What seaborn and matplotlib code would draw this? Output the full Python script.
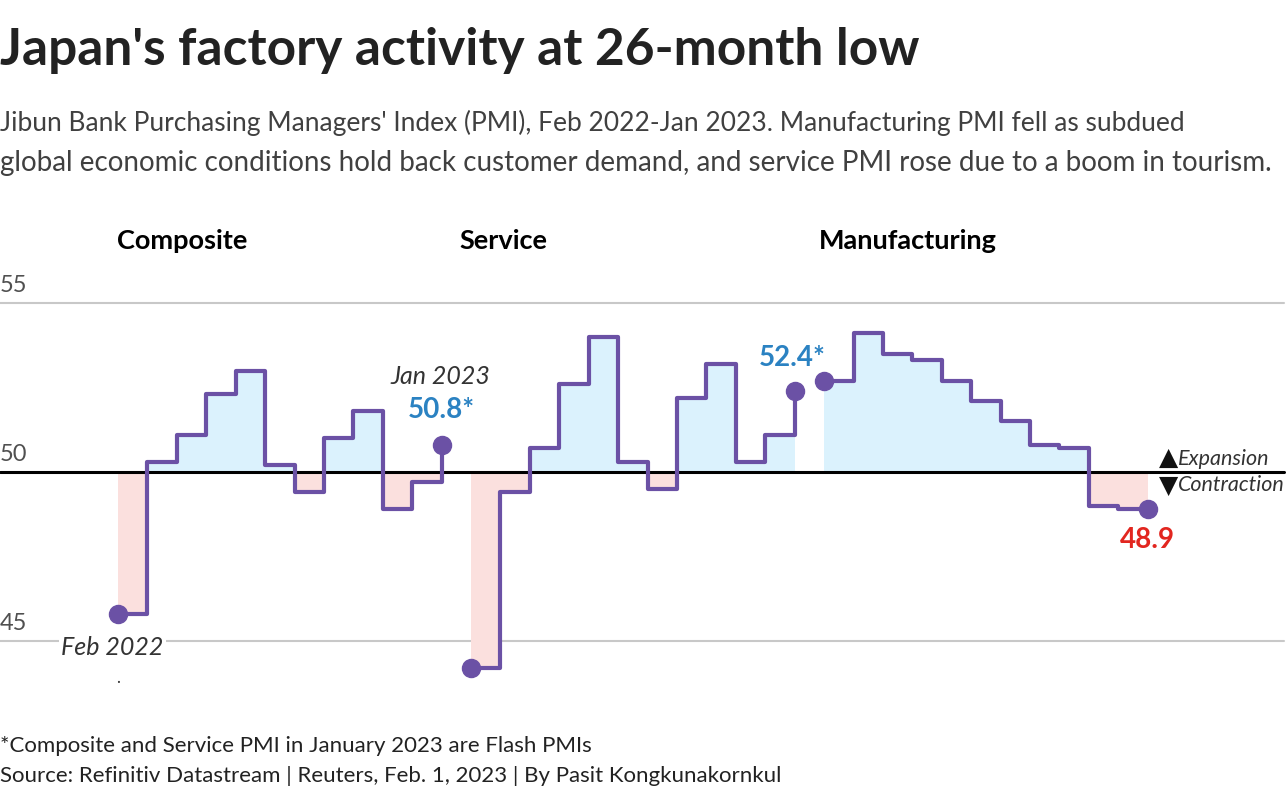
import numpy as np
import pandas as pd
import matplotlib.pyplot as plt
import seaborn as sns

# Jibun Bank PMI, Feb 2022 - Jan 2023
months = ['Feb', 'Mar', 'Apr', 'May', 'Jun', 'Jul', 'Aug', 'Sep', 'Oct', 'Nov', 'Dec', 'Jan']
panels = ['Composite', 'Service', 'Manufacturing']
composite = [45.8, 50.3, 51.1, 52.3, 53.0, 50.2, 49.4, 51.0, 51.8, 48.9, 49.7, 50.8]
service = [44.2, 49.4, 50.7, 52.6, 54.0, 50.3, 49.5, 52.2, 53.2, 50.3, 51.1, 52.4]
manufacturing = [52.7, 54.1, 53.5, 53.3, 52.7, 52.1, 51.5, 50.8, 50.7, 49.0, 48.9, 48.9]
end_labels = ['50.8*', '52.4*', '48.9']
y_ticks = [45, 50, 55]

LINE = '#6b51a5'
BLUE_FILL = '#dbf2fd'
RED_FILL = '#fbe0de'
BLUE_TXT = '#2b82c2'
RED_TXT = '#e2261f'

rows = []
for p, vals in zip(panels, [composite, service, manufacturing]):
    for m, v in enumerate(vals):
        rows.append({'panel': p, 'month': months[m], 'pos': panels.index(p) * 12 + m, 'pmi': v})
df = pd.DataFrame(rows)

sns.set_theme(style='white')
plt.rcParams['font.family'] = ['Lato', 'DejaVu Sans']

W, H = 1288, 800
fig = plt.figure(figsize=(W / 100, H / 100), dpi=100)
ax = fig.add_axes([0, 1 - 700 / H, 1, 410 / H])


def fx(px):
    return px / W


def fy(py):
    return 1 - py / H


# grid / baseline
for t in y_ticks:
    if t == 50:
        ax.axhline(t, xmin=0, xmax=1284 / W, color='black', lw=2.2, zorder=3)
    else:
        ax.axhline(t, xmin=0, xmax=1284 / W, color='#c8c8c8', lw=1.5, zorder=0)

for i, p in enumerate(panels):
    d = df[df.panel == p]
    x = d.pos.values
    v = d.pmi.values
    ax.fill_between(x, 50, np.maximum(v, 50), step='post', color=BLUE_FILL, lw=0, zorder=1)
    ax.fill_between(x, 50, np.minimum(v, 50), step='post', color=RED_FILL, lw=0, zorder=1)
    sns.lineplot(data=d, x='pos', y='pmi', ax=ax, color=LINE, lw=3,
                 drawstyle='steps-post', zorder=4)
    ax.plot([x[0], x[-1]], [v[0], v[-1]], 'o', color=LINE, ms=13, zorder=5)

ax.set_xlim(-118 / 29.42, (W - 118) / 29.42)
ax.set_ylim(45 - 59 / 33.8, 55 + 13 / 33.8)
ax.axis('off')

# y tick labels above grid lines
for t in y_ticks:
    ax.annotate(str(t), xy=(0, t), xycoords=('axes fraction', 'data'),
                xytext=(0, 5), textcoords='offset points', ha='left', va='bottom',
                fontsize=17, color='#505050')

# annotations
comp = df[df.panel == 'Composite']
serv = df[df.panel == 'Service']
manu = df[df.panel == 'Manufacturing']

ax.annotate('Feb 2022', xy=(comp.pos.iloc[0], comp.pmi.iloc[0]), xytext=(-4, -24),
            textcoords='offset points', ha='center', va='center', fontsize=18,
            fontstyle='italic', color='#333333', zorder=6,
            bbox=dict(boxstyle='square,pad=0.1', fc='white', ec='none'))
ax.annotate('.', xy=(comp.pos.iloc[0], comp.pmi.iloc[0]), xytext=(0, -46),
            textcoords='offset points', ha='center', va='center', fontsize=12, color='#333333')
ax.annotate('Jan 2023', xy=(comp.pos.iloc[-1], comp.pmi.iloc[-1]), xytext=(-1, 49),
            textcoords='offset points', ha='center', va='center', fontsize=18,
            fontstyle='italic', color='#333333')
ax.annotate(end_labels[0], xy=(comp.pos.iloc[-1], comp.pmi.iloc[-1]), xytext=(0, 25),
            textcoords='offset points', ha='center', va='center', fontsize=20,
            fontweight='bold', color=BLUE_TXT)
ax.annotate(end_labels[1], xy=(serv.pos.iloc[-1], serv.pmi.iloc[-1]), xytext=(-2, 24),
            textcoords='offset points', ha='center', va='center', fontsize=20,
            fontweight='bold', color=BLUE_TXT)
ax.annotate(end_labels[2], xy=(manu.pos.iloc[-1], manu.pmi.iloc[-1]), xytext=(0, -22),
            textcoords='offset points', ha='center', va='center', fontsize=20,
            fontweight='bold', color=RED_TXT)

# expansion / contraction key
fig.text(fx(1159), fy(458), '\u25B2', fontsize=18, family='DejaVu Sans', color='#111111',
         ha='left', va='center')
fig.text(fx(1159), fy(486), '\u25BC', fontsize=18, family='DejaVu Sans', color='#111111',
         ha='left', va='center')
fig.text(fx(1178), fy(459), 'Expansion', fontsize=15.5, fontstyle='italic',
         color='#333333', ha='left', va='center')
fig.text(fx(1178), fy(485), 'Contraction', fontsize=15.5, fontstyle='italic',
         color='#333333', ha='left', va='center')

# panel titles
for name, px in zip(panels, [117, 459, 819]):
    fig.text(fx(px), fy(241), name, fontsize=19.5, fontweight='bold', color='black',
             ha='left', va='center')

# titles
fig.text(0, fy(50), "Japan's factory activity at 26-month low", fontsize=37,
         fontweight='bold', color='#222222', ha='left', va='center')
fig.text(0, fy(123), "Jibun Bank Purchasing Managers' Index (PMI), Feb 2022-Jan 2023. "
         "Manufacturing PMI fell as subdued", fontsize=19, color='#404040',
         ha='left', va='center')
fig.text(0, fy(163), "global economic conditions hold back customer demand, "
         "and service PMI rose due to a boom in tourism.", fontsize=20, color='#404040',
         ha='left', va='center')

# footer
fig.text(0, fy(746), '*Composite and Service PMI in January 2023 are Flash PMIs',
         fontsize=16, color='#222222', ha='left', va='center')
fig.text(0, fy(776), 'Source: Refinitiv Datastream | Reuters, Feb. 1, 2023 | By Pasit Kongkunakornkul',
         fontsize=16, color='#222222', ha='left', va='center')

fig.savefig('out.png', dpi=100)
